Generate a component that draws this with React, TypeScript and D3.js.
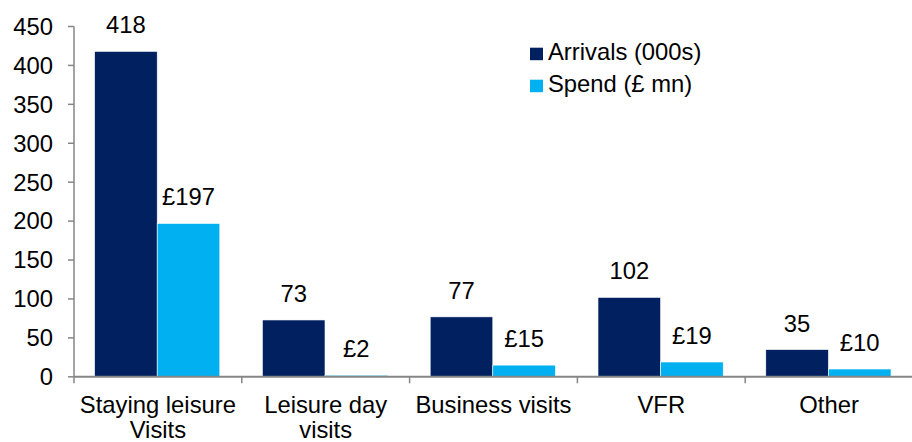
import React from "react";
import * as d3 from "d3";

const categories: string[][] = [
  ["Staying leisure", "Visits"],
  ["Leisure day", "visits"],
  ["Business visits"],
  ["VFR"],
  ["Other"],
];
const arrivals = [418, 73, 77, 102, 35];
const spend = [197, 2, 15, 19, 10];
const arrivalLabels = ["418", "73", "77", "102", "35"];
const spendLabels = ["£197", "£2", "£15", "£19", "£10"];
const yTicks = [0, 50, 100, 150, 200, 250, 300, 350, 400, 450];
const seriesNames = ["Arrivals (000s)", "Spend (£ mn)"];

const W = 912;
const H = 442;
const DARK = "#002060";
const LIGHT = "#00B0F0";
const AXIS = "#868686";
const FONT = "'Liberation Sans', Arial, sans-serif";

export default function App() {
  const left = 74;
  const right = 913;
  const top = 26.5;
  const bottom = 376.8;
  const y = d3.scaleLinear().domain([0, 450]).range([bottom, top]);
  const x = d3
    .scaleBand<number>()
    .domain(d3.range(categories.length))
    .range([left, right])
    .paddingInner(0)
    .paddingOuter(0);
  const barW = 62.6;
  const fs = 23.8;

  return (
    <svg
      width={W}
      height={H}
      style={{ position: "absolute", left: 0, top: 0, background: "#fff" }}
      fontFamily={FONT}
    >
      {/* bars */}
      {categories.map((_, i) => {
        const c = (x(i) as number) + x.bandwidth() / 2 - 0.7;
        return (
          <g key={i}>
            <rect
              x={c - barW}
              y={y(arrivals[i])}
              width={barW}
              height={bottom - y(arrivals[i])}
              fill={DARK}
              stroke="#ffffff"
              strokeWidth={0.6}
            />
            <rect
              x={c}
              y={y(spend[i])}
              width={barW}
              height={bottom - y(spend[i])}
              fill={LIGHT}
              stroke="#ffffff"
              strokeWidth={0.6}
            />
            <text
              x={c - barW / 2}
              y={y(arrivals[i]) - 18}
              textAnchor="middle"
              fontSize={fs}
              fill="#000"
            >
              {arrivalLabels[i]}
            </text>
            <text
              x={c + barW / 2}
              y={y(spend[i]) - 18}
              textAnchor="middle"
              fontSize={fs}
              fill="#000"
            >
              {spendLabels[i]}
            </text>
            {categories[i].map((line, k) => (
              <text
                key={k}
                x={c + 0.7}
                y={413 + k * 25}
                textAnchor="middle"
                fontSize={fs}
                fill="#000"
              >
                {line}
              </text>
            ))}
          </g>
        );
      })}

      {/* y axis */}
      <line x1={left} x2={left} y1={top} y2={bottom} stroke={AXIS} strokeWidth={1.5} />
      {yTicks.map((t) => (
        <g key={t}>
          <line x1={left - 6} x2={left} y1={y(t)} y2={y(t)} stroke={AXIS} strokeWidth={1.5} />
          <text
            x={53}
            y={y(t)}
            dy="0.35em"
            textAnchor="end"
            fontSize={fs}
            fill="#000"
          >
            {t}
          </text>
        </g>
      ))}

      {/* x axis */}
      <line x1={left} x2={W} y1={bottom} y2={bottom} stroke={AXIS} strokeWidth={2} />
      {categories.map((_, i) => (
        <line
          key={i}
          x1={x(i) as number}
          x2={x(i) as number}
          y1={bottom}
          y2={bottom + 6.5}
          stroke={AXIS}
          strokeWidth={1.5}
        />
      ))}

      {/* legend */}
      {seriesNames.map((s, i) => (
        <g key={s}>
          <rect x={530} y={47.7 + i * 32} width={13} height={12.5} fill={i === 0 ? DARK : LIGHT} />
          <text x={548} y={60 + i * 32} fontSize={fs} fill="#000">
            {s}
          </text>
        </g>
      ))}
    </svg>
  );
}
